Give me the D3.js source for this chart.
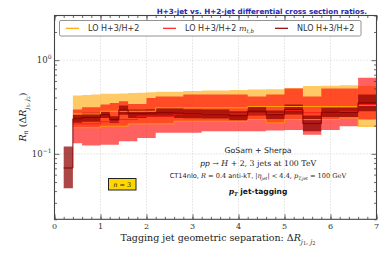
<!DOCTYPE html>
<html>
<head>
<meta charset="utf-8">
<script src="https://cdn.jsdelivr.net/npm/d3@7"></script>
<style>
  body { margin: 0; background: #fff; }
  svg { display: block; }
</style>
</head>
<body>
<svg id="chart" width="391" height="265"></svg>
<script>
// bin edges in Delta R
var edges = [0.2, 0.4, 0.6, 0.8, 1.0, 1.2, 1.4, 1.6, 1.8, 2.0, 2.2, 2.6, 2.8, 3.2, 3.4, 3.8, 4.2, 4.6, 5.0, 5.4, 5.8, 6.2, 6.6, 7.0];

// LO H+3/H+2 (first bin empty)
var loLow  = [null, 0.19, 0.19, 0.19, 0.197, 0.197, 0.197, 0.209, 0.209, 0.209, 0.209, 0.223, 0.223, 0.223, 0.223, 0.223, 0.232, 0.214, 0.232, 0.232, 0.232, 0.242, 0.197];
var loMid  = [null, 0.267, 0.267, 0.267, 0.285, 0.285, 0.285, 0.285, 0.285, 0.285, 0.31, 0.31, 0.31, 0.31, 0.31, 0.31, 0.32, 0.32, 0.32, 0.32, 0.32, 0.32, 0.33];
var loHigh = [null, 0.42, 0.425, 0.43, 0.437, 0.437, 0.44, 0.445, 0.45, 0.455, 0.46, 0.46, 0.47, 0.475, 0.475, 0.48, 0.486, 0.49, 0.506, 0.53, 0.535, 0.54, 0.53];

// LO H+3/H+2 with m_t,b
var mtLow  = [null, 0.13, 0.123, 0.123, 0.125, 0.125, 0.136, 0.136, 0.148, 0.148, 0.168, 0.168, 0.168, 0.174, 0.174, 0.174, 0.174, 0.177, 0.18, 0.16, 0.18, 0.197, 0.232];
var mtMid  = [null, 0.209, 0.209, 0.209, 0.22, 0.22, 0.232, 0.232, 0.252, 0.252, 0.252, 0.267, 0.267, 0.267, 0.267, 0.267, 0.267, 0.267, 0.29, 0.275, 0.275, 0.285, 0.336];
var mtHigh = [null, 0.297, 0.315, 0.315, 0.336, 0.35, 0.365, 0.34, 0.34, 0.395, 0.41, 0.41, 0.43, 0.43, 0.43, 0.43, 0.41, 0.43, 0.5, 0.41, 0.5, 0.5, 0.65];

// NLO H+3/H+2
var nloLow  = [0.043, 0.215, 0.22, 0.22, 0.242, 0.214, 0.262, 0.242, 0.242, 0.248, 0.248, 0.242, 0.24, 0.238, 0.238, 0.228, 0.256, 0.236, 0.263, 0.174, 0.248, 0.248, 0.285];
var nloMid  = [0.0706, 0.237, 0.245, 0.245, 0.262, 0.232, 0.293, 0.268, 0.268, 0.272, 0.275, 0.272, 0.268, 0.265, 0.265, 0.255, 0.285, 0.262, 0.297, 0.21, 0.277, 0.277, 0.35];
var nloHigh = [0.12, 0.262, 0.274, 0.274, 0.285, 0.252, 0.328, 0.297, 0.297, 0.30, 0.31, 0.31, 0.30, 0.297, 0.297, 0.285, 0.32, 0.29, 0.336, 0.256, 0.31, 0.31, 0.43];

var xTicks = [0, 1, 2, 3, 4, 5, 6, 7];
var legendNames = ["LO H+3/H+2", "LO H+3/H+2 ", "NLO H+3/H+2"];

var margin = { top: 15.5, right: 14.5, bottom: 45.7, left: 54.5 },
  W = 391, H = 265,
  width = W - margin.left - margin.right,
  height = H - margin.top - margin.bottom;

var svg = d3.select("#chart");
var g = svg.append("g").attr("transform", "translate(" + margin.left + "," + margin.top + ")");

var x = d3.scaleLinear().domain([0, 7]).range([0, width]);
var y = d3.scaleLog().domain([0.02, 3]).range([height, 0]);

// grid
var grid = g.append("g").attr("stroke", "#c8c8c8").attr("stroke-dasharray", "1,2").attr("stroke-width", 0.8);
[1, 2, 3, 4, 5, 6].forEach(function (t) {
  grid.append("line").attr("x1", x(t)).attr("x2", x(t)).attr("y1", 0).attr("y2", height);
});
[0.1, 1].forEach(function (t) {
  grid.append("line").attr("x1", 0).attr("x2", width).attr("y1", y(t)).attr("y2", y(t));
});

// step helpers
function steps(vals) {
  var pts = [];
  vals.forEach(function (v, i) {
    if (v == null) return;
    pts.push({ x: edges[i], v: v, i: i });
    pts.push({ x: edges[i + 1], v: v, i: i });
  });
  return pts;
}
function bandPts(lo, hi) {
  var pts = [];
  lo.forEach(function (v, i) {
    if (v == null) return;
    pts.push({ x: edges[i], lo: v, hi: hi[i] });
    pts.push({ x: edges[i + 1], lo: v, hi: hi[i] });
  });
  return pts;
}

var area = d3.area()
  .x(function (d) { return x(d.x); })
  .y0(function (d) { return y(d.lo); })
  .y1(function (d) { return y(d.hi); });
var line = d3.line()
  .x(function (d) { return x(d.x); })
  .y(function (d) { return y(d.v); });

var series = [
  { lo: loLow, mid: loMid, hi: loHigh, fill: "#ffa500", op: 0.6, stroke: "#ffa500" },
  { lo: mtLow, mid: mtMid, hi: mtHigh, fill: "#ff0000", op: 0.62, stroke: "#ff1a1a" },
  { lo: nloLow, mid: nloMid, hi: nloHigh, fill: "#8b0000", op: 0.72, stroke: "#8b0000" }
];

series.forEach(function (s, k) {
  g.append("path").datum(bandPts(s.lo, s.hi))
    .attr("d", area).attr("fill", s.fill).attr("fill-opacity", s.op);
});
// LO band edges faintly visible
g.append("path").datum(steps(loLow)).attr("d", line)
  .attr("fill", "none").attr("stroke", "#ffa500").attr("stroke-width", 0.8);
series.forEach(function (s) {
  g.append("path").datum(steps(s.mid)).attr("d", line)
    .attr("fill", "none").attr("stroke", s.stroke).attr("stroke-width", 1);
});

// axes with inward ticks
var axColor = "#444";
function styleAxis(sel) {
  sel.select(".domain").remove();
  sel.selectAll(".tick line").attr("stroke", axColor).attr("stroke-width", 0.8);
}
var minorX = d3.range(0, 7.01, 0.2).map(function (d) { return +d.toFixed(1); });
g.append("g").attr("transform", "translate(0," + height + ")")
  .call(d3.axisBottom(x).tickValues(minorX).tickSize(-2.5).tickFormat("")).call(styleAxis);
g.append("g").attr("transform", "translate(0," + height + ")")
  .call(d3.axisBottom(x).tickValues(xTicks).tickSize(-5).tickFormat("")).call(styleAxis);
g.append("g")
  .call(d3.axisTop(x).tickValues(minorX).tickSize(-2.5).tickFormat("")).call(styleAxis);
g.append("g")
  .call(d3.axisTop(x).tickValues(xTicks).tickSize(-5).tickFormat("")).call(styleAxis);

var minorY = [];
[0.01, 0.1, 1].forEach(function (dec) {
  for (var m = 2; m <= 9; m++) {
    var v = dec * m;
    if (v >= 0.02 && v <= 3) minorY.push(v);
  }
});
var majorY = [0.1, 1];
g.append("g").call(d3.axisLeft(y).tickValues(minorY).tickSize(-2.5).tickFormat("")).call(styleAxis);
g.append("g").call(d3.axisLeft(y).tickValues(majorY).tickSize(-5).tickFormat("")).call(styleAxis);
g.append("g").attr("transform", "translate(" + width + ",0)")
  .call(d3.axisRight(y).tickValues(minorY).tickSize(-2.5).tickFormat("")).call(styleAxis);
g.append("g").attr("transform", "translate(" + width + ",0)")
  .call(d3.axisRight(y).tickValues(majorY).tickSize(-5).tickFormat("")).call(styleAxis);

// frame
g.append("rect").attr("width", width).attr("height", height)
  .attr("fill", "none").attr("stroke", axColor).attr("stroke-width", 1.1);

var serif = "'DejaVu Serif', serif";
var sans = "'DejaVu Sans', sans-serif";

// x tick labels
g.append("g").selectAll("text").data(xTicks).enter().append("text")
  .attr("x", function (d) { return x(d); })
  .attr("y", height + 9.5)
  .attr("text-anchor", "middle")
  .style("font-family", serif).style("font-size", "8px").style("fill", "#333")
  .text(function (d) { return d; });

// y tick labels 10^0, 10^-1
[{ v: 1, e: "0" }, { v: 0.1, e: "\u22121" }].forEach(function (t) {
  var tx = g.append("text")
    .attr("x", -3).attr("y", y(t.v) + 3)
    .attr("text-anchor", "end")
    .style("font-family", serif).style("font-size", "8.5px").style("fill", "#333");
  tx.append("tspan").text("10");
  tx.append("tspan").attr("dy", -4).style("font-size", "6px").text(t.e);
});

// axis titles
var xl = svg.append("text")
  .attr("x", 218).attr("y", 241)
  .attr("text-anchor", "middle")
  .style("font-family", serif).style("font-size", "9.5px").style("fill", "#222");
xl.append("tspan").text("Tagging jet geometric separation:  \u0394");
xl.append("tspan").style("font-style", "italic").text("R");
xl.append("tspan").attr("dy", 2.5).style("font-size", "6.5px").style("font-style", "italic").text("j");
xl.append("tspan").style("font-size", "5px").attr("dy", 1).text("1");
xl.append("tspan").style("font-size", "6.5px").attr("dy", -1).text(", ");
xl.append("tspan").style("font-size", "6.5px").style("font-style", "italic").text("j");
xl.append("tspan").style("font-size", "5px").attr("dy", 1).text("2");

var yl = svg.append("text")
  .attr("transform", "translate(26,117) rotate(-90)")
  .attr("text-anchor", "middle")
  .style("font-family", serif).style("font-size", "9.5px").style("fill", "#222");
yl.append("tspan").style("font-style", "italic").text("R");
yl.append("tspan").attr("dy", 2).style("font-size", "6.5px").style("font-style", "italic").text("n");
yl.append("tspan").attr("dy", -2).text(" (\u0394");
yl.append("tspan").style("font-style", "italic").text("R");
yl.append("tspan").attr("dy", 2.5).style("font-size", "6px").style("font-style", "italic").text("j");
yl.append("tspan").style("font-size", "4.5px").attr("dy", 1).text("1");
yl.append("tspan").style("font-size", "6px").attr("dy", -1).text(", ");
yl.append("tspan").style("font-size", "6px").style("font-style", "italic").text("j");
yl.append("tspan").style("font-size", "4.5px").attr("dy", 1).text("2");
yl.append("tspan").attr("dy", -3.5).text(")");

// title
svg.append("text")
  .attr("x", 367).attr("y", 14)
  .attr("text-anchor", "end")
  .style("font-family", sans).style("font-size", "7.2px").style("font-weight", "bold")
  .style("fill", "#2a2aa5")
  .text("H+3-jet vs. H+2-jet differential cross section ratios.");

// legend
var lg = svg.append("g");
lg.append("rect").attr("x", 59.5).attr("y", 20.5).attr("width", 301.5).attr("height", 15.5)
  .attr("rx", 1.5).attr("fill", "#fff").attr("stroke", "#777").attr("stroke-width", 0.8);
var legX = [66, 163, 275];
var legCol = ["#ffa500", "#ff1a1a", "#8b0000"];
legendNames.forEach(function (n, i) {
  lg.append("line").attr("x1", legX[i]).attr("x2", legX[i] + 13)
    .attr("y1", 28.3).attr("y2", 28.3).attr("stroke", legCol[i]).attr("stroke-width", 1.2);
  var t = lg.append("text").attr("x", legX[i] + 22).attr("y", 31.2)
    .style("font-family", sans).style("font-size", "8px").style("fill", "#333").text(n);
  if (i === 1) {
    t.append("tspan").style("font-family", serif).style("font-style", "italic").text("m");
    t.append("tspan").attr("dy", 1.8).style("font-family", serif).style("font-style", "italic")
      .style("font-size", "5.5px").text("t,b");
  }
});

// annotations
var cx = 258;
svg.append("text").attr("x", cx).attr("y", 153).attr("text-anchor", "middle")
  .style("font-family", sans).style("font-size", "7.8px").style("fill", "#222")
  .text("GoSam + Sherpa");

var a2 = svg.append("text").attr("x", cx).attr("y", 166).attr("text-anchor", "middle")
  .style("font-family", serif).style("font-size", "7.8px").style("fill", "#222");
a2.append("tspan").style("font-style", "italic").text("pp");
a2.append("tspan").text(" \u2192 ");
a2.append("tspan").style("font-style", "italic").text("H");
a2.append("tspan").text(" + 2, 3 jets at 100 TeV");

var a3 = svg.append("text").attr("x", cx).attr("y", 178).attr("text-anchor", "middle")
  .style("font-family", sans).style("font-size", "6.6px").style("fill", "#222");
a3.append("tspan").text("CT14nlo, ");
a3.append("tspan").style("font-family", serif).style("font-style", "italic").text("R");
a3.append("tspan").style("font-family", serif).text(" = 0.4 ");
a3.append("tspan").text("anti-kT, ");
a3.append("tspan").style("font-family", serif).text("|");
a3.append("tspan").style("font-family", serif).style("font-style", "italic").text("\u03b7");
a3.append("tspan").style("font-family", serif).style("font-style", "italic").style("font-size", "4.5px").attr("dy", 1.5).text("jet");
a3.append("tspan").style("font-family", serif).attr("dy", -1.5).text("| < 4.4, ");
a3.append("tspan").style("font-family", serif).style("font-style", "italic").text("p");
a3.append("tspan").style("font-family", serif).style("font-style", "italic").style("font-size", "4.5px").attr("dy", 1.5).text("T,jet");
a3.append("tspan").style("font-family", serif).attr("dy", -1.5).text(" = 100 GeV");

var a4 = svg.append("text").attr("x", cx).attr("y", 194).attr("text-anchor", "middle")
  .style("font-size", "7.5px").style("fill", "#111").style("font-weight", "bold");
a4.append("tspan").style("font-family", serif).style("font-style", "italic").text("p");
a4.append("tspan").style("font-family", serif).style("font-style", "italic").style("font-size", "5px").attr("dy", 1.5).text("T");
a4.append("tspan").style("font-family", sans).attr("dy", -1.5).text("  jet-tagging");

// n = 3 box
svg.append("rect").attr("x", 108.5).attr("y", 178.5).attr("width", 27.5).attr("height", 11.5)
  .attr("fill", "#ffd700").attr("stroke", "#222").attr("stroke-width", 1);
var nb = svg.append("text").attr("x", 122.2).attr("y", 186.6).attr("text-anchor", "middle")
  .style("font-family", serif).style("font-size", "6.5px").style("fill", "#222");
nb.append("tspan").style("font-style", "italic").text("n");
nb.append("tspan").text(" = 3");
</script>
</body>
</html>
